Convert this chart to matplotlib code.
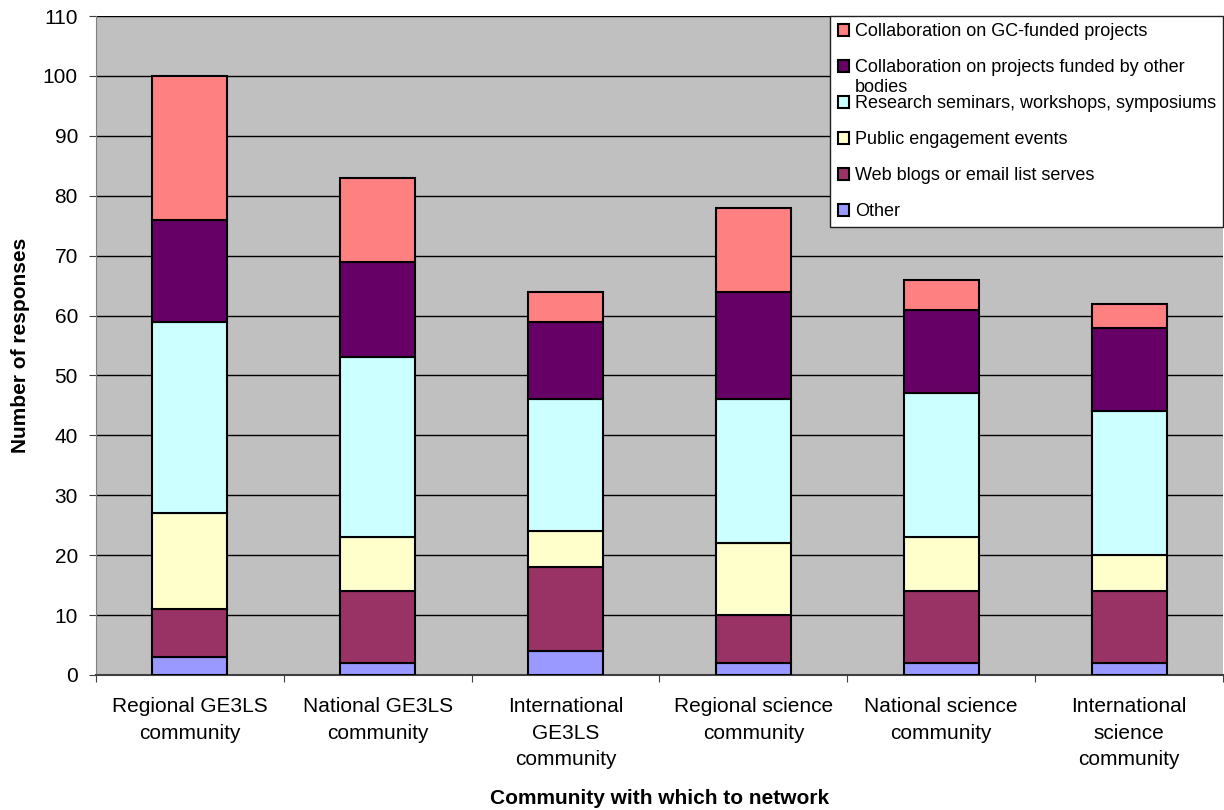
import numpy as np
import matplotlib.pyplot as plt

plt.rcParams['font.family'] = ['Liberation Sans', 'DejaVu Sans']

communities = ["Regional GE3LS\ncommunity", "National GE3LS\ncommunity",
               "International\nGE3LS\ncommunity", "Regional science\ncommunity",
               "National science\ncommunity", "International\nscience\ncommunity"]

# segments, bottom to top
other = [3, 2, 4, 2, 2, 2]
web_blogs = [8, 12, 14, 8, 12, 12]
public_events = [16, 9, 6, 12, 9, 6]
research_seminars = [32, 30, 22, 24, 24, 24]
collab_other_bodies = [17, 16, 13, 18, 14, 14]
collab_gc = [24, 14, 5, 14, 5, 4]

series = [
    ("Other", other, "#9999FF"),
    ("Web blogs or email list serves", web_blogs, "#993366"),
    ("Public engagement events", public_events, "#FFFFCC"),
    ("Research seminars, workshops, symposiums", research_seminars, "#CCFFFF"),
    ("Collaboration on projects funded by other", collab_other_bodies, "#660066"),
    ("Collaboration on GC-funded projects", collab_gc, "#FF8080"),
]

fig = plt.figure(figsize=(12.24, 8.1), dpi=100)
ax = fig.add_axes([96 / 1224, 135 / 810, 1127 / 1224, 659 / 810])
ax.set_facecolor("#C0C0C0")

x = np.arange(len(communities))
bottom = np.zeros(len(communities))
handles = []
for name, vals, col in series:
    b = ax.bar(x, vals, 0.4, bottom=bottom, color=col, edgecolor="black",
               linewidth=1.5, label=name, zorder=3)
    handles.append(b)
    bottom += np.array(vals)

ax.set_xlim(-0.5, len(communities) - 0.5)
ax.set_ylim(0, 110)
ax.set_yticks(np.arange(0, 111, 10))
ax.yaxis.grid(True, color="black", linewidth=1, zorder=0)
ax.set_axisbelow(True)

ax.set_xticks(np.arange(-0.5, len(communities), 1))
ax.set_xticklabels([])
ax.set_xticks(x, minor=True)
ax.set_xticklabels(communities, minor=True, fontsize=15, linespacing=1.5)
ax.tick_params(axis="x", which="minor", length=0, pad=16)
ax.tick_params(axis="x", which="major", length=5, direction="out", color="#404040")
ax.tick_params(axis="y", length=5, direction="out", labelsize=15, pad=8, color="#404040")

for side in ["top", "right"]:
    ax.spines[side].set_visible(False)
ax.spines["left"].set_color("#808080")
ax.spines["bottom"].set_color("#404040")
ax.spines["bottom"].set_linewidth(1.5)

ax.set_ylabel("Number of responses", fontsize=15, fontweight="bold", labelpad=9)
ax.set_xlabel("Community with which to network", fontsize=15, fontweight="bold", labelpad=14)

leg = ax.legend(handles[::-1], [s[0] for s in series[::-1]], loc="upper right",
                bbox_to_anchor=(1.0, 1.0), borderaxespad=0, fontsize=13,
                frameon=True, fancybox=False, edgecolor="#202020", framealpha=1,
                handlelength=0.65, handleheight=0.65, handletextpad=0.3,
                labelspacing=1.05, borderpad=0.4)
leg.get_frame().set_linewidth(1)

# second line of the wrapped legend label, tucked under its first line
fig.canvas.draw()
t = leg.get_texts()[1]
bb = t.get_window_extent().transformed(fig.transFigure.inverted())
fig.text(bb.x0, bb.y0 - 0.003, "bodies", fontsize=13, va="top", ha="left")

fig.savefig("out.png", dpi=100)
